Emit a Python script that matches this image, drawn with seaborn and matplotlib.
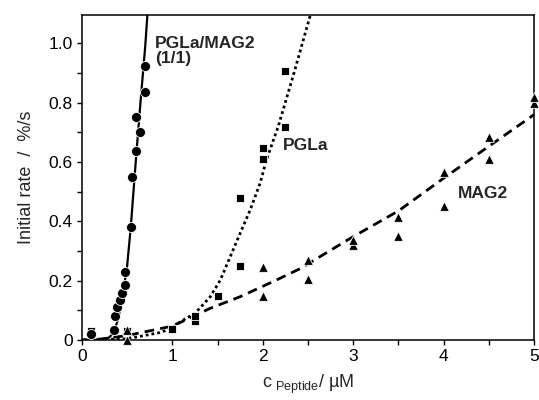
import matplotlib
matplotlib.use("Agg")
import matplotlib.pyplot as plt
import seaborn as sns
import pandas as pd
from matplotlib.ticker import MultipleLocator, FixedLocator

# ---- data ----
mix_x = [0.1, 0.35, 0.37, 0.39, 0.42, 0.44, 0.48, 0.48, 0.54, 0.55, 0.60, 0.64, 0.60, 0.70, 0.70]
mix_y = [0.02, 0.035, 0.08, 0.11, 0.135, 0.157, 0.185, 0.23, 0.38, 0.55, 0.638, 0.70, 0.75, 0.834, 0.923]

pgla_x = [0.1, 0.1, 0.5, 1.0, 1.25, 1.25, 1.5, 1.75, 1.75, 2.0, 2.0, 2.25, 2.25]
pgla_y = [0.02, 0.03, 0.03, 0.037, 0.065, 0.082, 0.148, 0.25, 0.477, 0.609, 0.648, 0.719, 0.908]

mag_x = [0.5, 0.5, 2.0, 2.0, 2.5, 2.5, 3.0, 3.0, 3.5, 3.5, 4.0, 4.0, 4.5, 4.5, 5.0, 5.0]
mag_y = [0.0, 0.035, 0.148, 0.247, 0.206, 0.269, 0.32, 0.338, 0.349, 0.415, 0.452, 0.566, 0.609, 0.684, 0.798, 0.82]

# fitted curves
mix_fit_x = [0, 0.2, 0.3, 0.35, 0.4, 0.45, 0.5, 0.54, 0.6, 0.65, 0.7, 0.725]
mix_fit_y = [0, 0.002, 0.008, 0.025, 0.07, 0.15, 0.25, 0.38, 0.62, 0.81, 0.99, 1.1]

pgla_fit_x = [0, 0.5, 0.86, 1.0, 1.08, 1.25, 1.42, 1.53, 1.64, 1.75, 1.86, 1.97, 2.04, 2.17, 2.345, 2.53]
pgla_fit_y = [0, 0.004, 0.025, 0.04, 0.06, 0.09, 0.146, 0.202, 0.281, 0.36, 0.438, 0.528, 0.607, 0.719, 0.9, 1.1]

mag_fit_x = [0, 0.2, 0.5, 0.97, 1.08, 1.42, 1.75, 2.15, 2.41, 2.97, 3.5, 3.99, 4.44, 4.97, 5.0]
mag_fit_y = [0, 0.003, 0.015, 0.045, 0.058, 0.107, 0.146, 0.202, 0.24, 0.343, 0.435, 0.543, 0.64, 0.753, 0.76]

x_ticks = [0, 1, 2, 3, 4, 5]
y_ticks = [0, 0.2, 0.4, 0.6, 0.8, 1.0]
y_tick_labels = ["0", "0.2", "0.4", "0.6", "0.8", "1.0"]

# ---- plotting ----
sns.set_style("ticks")
plt.rcParams['font.family'] = ['Liberation Sans', 'DejaVu Sans']
plt.rcParams['mathtext.fontset'] = 'custom'
plt.rcParams['mathtext.rm'] = 'Liberation Sans'

fig = plt.figure(figsize=(5.39, 4.0), dpi=100)
ax = fig.add_axes([0.152, 0.15, 0.839, 0.8125])

sns.lineplot(x=mix_fit_x, y=mix_fit_y, ax=ax, color="black", lw=1.6, sort=False, estimator=None)
sns.lineplot(x=pgla_fit_x, y=pgla_fit_y, ax=ax, color="black", lw=2.0, sort=False, estimator=None,
             linestyle=(0, (1, 1.1)))
sns.lineplot(x=mag_fit_x, y=mag_fit_y, ax=ax, color="black", lw=2.0, sort=False, estimator=None,
             linestyle=(0, (3.5, 2.2)))

sc_kw = dict(color="black", edgecolor="white", linewidth=0.6, ax=ax, clip_on=False, zorder=5)
sns.scatterplot(x=pgla_x, y=pgla_y, marker="s", s=36, **sc_kw)
sns.scatterplot(x=mag_x, y=mag_y, marker="^", s=48, **sc_kw)
sns.scatterplot(x=mix_x, y=mix_y, marker="o", s=52, **sc_kw)

ax.set_xlim(0, 5)
ax.set_ylim(0, 1.095)
ax.xaxis.set_major_locator(FixedLocator(x_ticks))
ax.xaxis.set_minor_locator(MultipleLocator(0.5))
ax.set_yticks(y_ticks)
ax.set_yticklabels(y_tick_labels)
ax.yaxis.set_minor_locator(MultipleLocator(0.1))
ax.set_xticklabels([str(t) for t in x_ticks])

for s in ax.spines.values():
    s.set_linewidth(1.1)
    s.set_color("black")
ax.tick_params(which="both", direction="out", length=3.5, width=1.0, colors="black", labelsize=12.5)
ax.tick_params(which="major", pad=3)

ax.set_xlabel(r"c$_{\mathrm{\ Peptide}}$/ µM", fontsize=13, labelpad=6)
ax.set_ylabel("Initial rate  /  %/s", fontsize=13, labelpad=10)

ax.text(0.81, 1.025, "PGLa/MAG2\n(1/1)", fontsize=12.5, fontweight="bold", va="top", ha="left",
        linespacing=1.0)
ax.text(2.22, 0.655, "PGLa", fontsize=12.5, fontweight="bold", va="center", ha="left")
ax.text(4.16, 0.493, "MAG2", fontsize=12.5, fontweight="bold", va="center", ha="left")

fig.savefig("out.png", dpi=100)
